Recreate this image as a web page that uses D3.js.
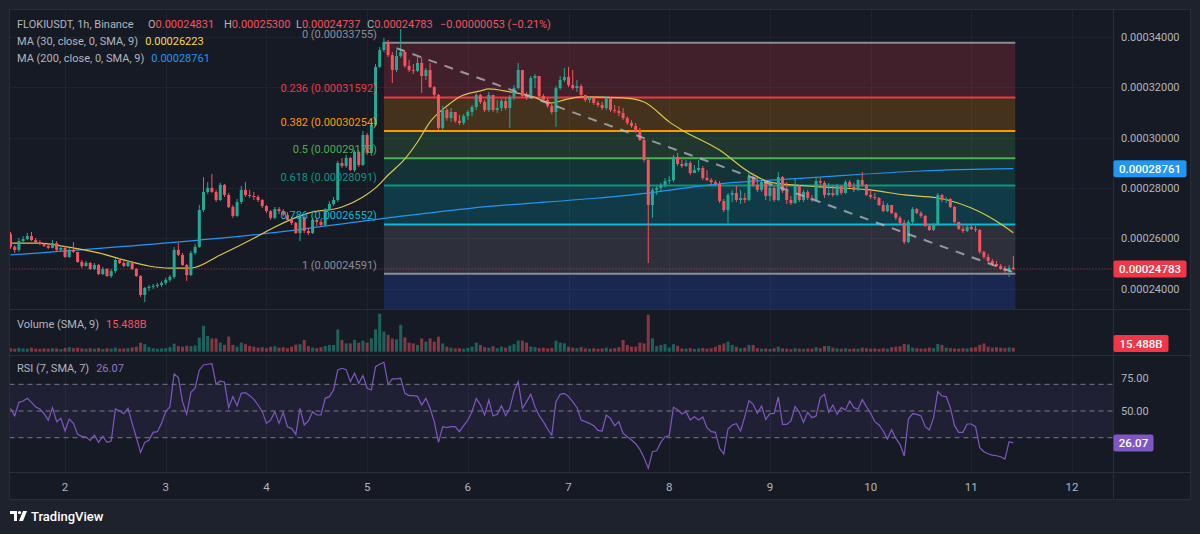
<!DOCTYPE html>
<html><head><meta charset="utf-8">
<script src="https://cdn.jsdelivr.net/npm/d3@7/dist/d3.min.js"></script>
<style>
html,body{margin:0;padding:0;background:#1e222d;}
svg{display:block;font-family:Roboto,"Noto Sans",sans-serif;}
</style></head><body>
<svg id="c" width="1200" height="534"></svg>
<script>
// ---------------- DATA (prices in units of 1e-8 USDT) ----------------
const UNIT = 1e-8;
const symbolTitle = "FLOKIUSDT, 1h, Binance";
const headerChange = "\u22120.00000053 (\u22120.21%)";
const ma30Title = "MA (30, close, 0, SMA, 9)";
const ma200Title = "MA (200, close, 0, SMA, 9)";
const volumeTitle = "Volume (SMA, 9)";
const rsiTitle = "RSI (7, SMA, 7)";
const dayTicks = [2,3,4,5,6,7,8,9,10,11,12];
const firstHour = -13;           // hours relative to day 2, 00:00
const firstOpen = 26170;
const lastOpen = 24831;
const close = [
25660,25540,25890,25970,26090,25930,25850,25770,25700,25620,
25810,25540,25620,25260,25540,25460,25060,24900,25020,24780,
24940,24580,24780,24500,24700,25140,25020,24900,25060,24780,
24500,23750,24030,24070,24110,24150,24230,24350,24470,25540,
25340,24940,24540,25420,25660,27120,27840,28000,27840,27520,
28120,27720,27240,26890,27440,27920,27720,27680,27640,27520,
27280,27080,26810,27160,27080,26930,26730,26610,26210,26850,
26290,26210,26730,26650,26530,27120,27360,27520,28990,28870,
29190,28710,29430,28910,30100,29390,30500,32800,33470,33790,
33270,32680,33230,33390,32840,32680,32640,32960,32440,32680,
32000,31690,30380,31090,30770,31010,30660,30580,30850,31010,
31210,31690,31410,31090,31690,31090,31170,31450,31170,31610,
31960,32680,31650,31570,32360,32440,31650,31490,31250,31010,
31960,32280,32400,32080,31960,32040,31690,31490,31570,31370,
31290,31170,31570,31090,31050,30970,30770,30580,30460,30260,
29900,29110,27320,27920,28000,28120,28270,28310,29230,28950,
28870,28990,28590,28710,28790,28390,28310,28230,28160,27480,
27120,27720,27800,27520,27600,27520,28430,28120,27920,28230,
27680,28000,27520,28430,27880,27520,27400,28080,27520,27840,
27600,27520,28270,28200,27720,27800,27720,28080,27800,28230,
28040,27920,28310,28120,27720,27640,27600,27320,27080,27320,
27000,26810,26610,25850,26650,27160,27000,26890,26490,26330,
26570,27720,27520,27560,27240,26650,26370,26290,26450,26370,
26330,25460,25260,25100,24980,24900,24780,24700,24831,24783];
const high = [
26250,25730,26010,26090,26210,26250,26010,25930,25810,25770,
25930,25890,25730,25700,25620,25850,25460,25140,25100,25060,
25020,24980,24860,24820,24780,25220,25220,25180,25140,25100,
24820,24540,24070,24150,24190,24230,24310,24430,24540,25660,
25810,25420,24980,25500,25770,27320,28430,28230,28550,27920,
28200,28160,27800,27320,27560,28080,28230,27920,27840,27720,
27560,27320,27120,27240,27240,27160,27040,26850,26650,26930,
26960,26410,26810,26810,26770,27200,27480,27640,29070,29190,
29310,29230,29500,29500,30260,30180,30620,32920,33590,33950,
33870,33390,33470,34310,33390,33080,32920,33190,33190,32760,
32960,32040,31730,31250,31170,31170,31010,30890,30930,31090,
31290,31770,31730,31490,31810,31690,31490,31530,31570,31690,
32080,32960,32600,31810,32440,32520,32440,31730,31570,31370,
32040,32440,32760,32800,32680,32280,32120,31690,31650,31610,
31450,31410,31650,31610,31290,31250,31170,30850,30690,30580,
30380,29940,29150,28000,28080,28200,28390,28470,29310,29390,
29110,29110,29070,28910,29110,28870,28710,28390,28310,28270,
27560,27800,27920,28080,27920,27800,28630,28590,28390,28390,
28310,28160,28080,28630,28470,28230,27680,28390,28120,27920,
27920,27720,28390,28390,28270,28200,28120,28160,28080,28310,
28310,28200,28350,28630,28160,27920,27800,27640,27480,27400,
27320,27040,26890,26730,26730,27240,27200,27080,26930,26530,
26610,27800,27760,27640,27600,27280,26650,26490,26530,26570,
26490,26370,25500,25380,25180,25100,24980,24900,24940,25300];
const low = [
25580,25420,25460,25850,25930,25890,25810,25730,25660,25580,
25600,25500,25500,25220,25220,25420,25020,24820,24870,24740,
24740,24540,24540,24470,24430,24620,24980,24860,24860,24740,
24470,23670,23470,23910,23990,24030,24070,24150,24270,24390,
25300,24900,24310,24500,25340,25620,27040,27760,27800,27440,
27480,27640,27200,26810,26850,27360,27640,27600,27520,27440,
27200,27000,26730,26770,26960,26890,26690,26530,26170,25890,
26210,26130,26170,26490,26450,26490,27080,27280,27440,28790,
28790,28670,28630,28830,28870,29310,29270,30460,32760,33390,
33190,32160,32600,33160,32760,32600,32520,32600,31770,32280,
31960,31610,30300,30300,30660,30620,30580,30500,30500,30690,
30850,31090,31330,31010,31010,31010,30970,31050,31090,30380,
31490,31890,31570,31490,31530,31960,31570,31410,31170,30930,
30420,31890,32200,32000,31890,31810,31610,31410,31370,31290,
31210,31090,31090,31010,30970,30850,30690,30500,30380,30180,
29860,29030,25020,26810,27720,27840,28040,28160,28230,28870,
28790,28830,28510,28590,28630,28310,28270,28120,28080,27400,
27040,26610,27440,27440,27360,27400,27480,28040,27840,27840,
27520,27480,27440,27480,27800,27360,27320,27360,27440,27440,
27520,27440,27480,28120,27600,27680,27640,27680,27720,27760,
28000,27840,27880,28040,27680,27560,27520,27280,27040,27040,
26960,26730,26570,25770,25810,26570,26960,26810,26450,26290,
26290,26490,27440,27400,27200,26610,26330,26210,26250,26330,
26250,25380,25180,25060,24900,24860,24740,24620,24470,24737];
const volume = [
14,12,15,13,12,16,12,11,13,12, 14,13,10,15,18,14,16,13,12,14,
12,15,11,14,12,16,12,13,14,17, 20,36,30,18,14,12,13,14,18,32,
22,20,24,22,25,56,103,63,53,53, 36,27,60,27,20,36,30,23,20,16,
18,14,20,22,16,18,14,20,28,30, 47,22,16,14,18,23,27,27,89,47,
33,33,47,36,44,36,53,89,151,80, 67,53,49,107,57,36,33,27,53,40,
53,40,60,33,20,16,13,14,12,15, 20,36,27,18,16,22,14,20,16,24,
30,44,44,36,20,18,14,16,13,15, 44,36,33,20,16,14,18,13,12,14,
12,13,16,12,14,18,47,27,20,20, 36,33,147,53,23,27,30,16,30,23,
13,12,14,11,13,15,12,14,20,27, 33,40,27,20,14,16,27,27,14,12,
13,11,14,20,13,12,10,14,12,11, 13,12,18,14,23,23,16,13,12,14,
11,13,12,16,14,12,13,11,14,12, 18,20,22,31,29,16,14,12,13,16,
14,31,27,16,14,13,12,14,13,16, 18,27,33,20,16,18,16,14,17,15.488];
const rsi = [
52,46.5,56.5,57.5,59.5,56.5,53,51.5,48,43, 52.5,42,44.5,35,44,40.75,32.5,31,30.5,28,
32,26.5,31,26.5,27.5,51.5,50,48,52,40.75, 30,19,26.5,28,34,34.5,40.75,49.5,53.25,77.75,
75,57,47.5,64,67,80.75,84.5,85,85.5,70, 72.5,71.5,52.5,60.75,54,63.25,63.75,61.5,58.75,54.5,
49.5,40.75,43.25,49.5,40.75,49,38.25,37,32.5,52, 39.5,42.5,49.5,47,47,59.5,60.75,65.75,80.75,82,
81,72,78.25,70.75,76.5,67,65.75,83.25,85,86.5, 70,74,74,74.5,63.25,61.5,61.5,61,54.5,59.5,
52,42,26.5,38.25,37.5,38.25,38.25,34.5,39,43.25, 49.5,59.5,54.5,47,58.25,46.25,47.5,54,46.5,52,
64.5,72,52,57,62.5,53.25,46.5,42,36.5,32, 57,62.5,63.25,60.75,57,52.5,43.25,42,40.75,39,
35.5,35,47,44.5,39,42,33.25,30.75,28.25,25.5, 21.25,15,7,19.5,20.25,26.5,30.75,31.5,52.75,51,
47.75,49.5,43.25,45.75,43.25,45.5,37.5,34.5,34,22, 17.75,36.5,39.5,40.5,35,45.75,57.75,55,48.25,53.75,
43.75,48,48.25,60.5,40,40,42.5,53.25,49,41.5, 49,45,46.25,60,62.5,49,54.5,47.5,52.5,50.75,
57.5,52.5,51.25,58.5,53.25,48.25,42,39.5,35,29, 36,29.5,25,16.25,44,48,47.5,46.25,38.25,35.75,
45,64.5,61.25,60.75,52.5,39,34,34,40.25,40.25, 38.25,22.5,19.5,18,17,16.5,15.75,14,27,26.07];
const ma30Bars = [0,7,12,21,28,33,38,43,50,59,63,71,79,84,87,90,94,97,100,104,107,112,114,119,124,129,132,136,146,151,157,160,169,176,181,193,205,213,221,229,236,239];
const ma30Vals = [25810,25810,25700,25420,25100,24900,24820,24820,25340,26090,26450,27000,27240,27640,28000,28510,29150,29820,30620,31250,31610,31850,31930,31810,31650,31370,31490,31610,31570,31410,30620,30300,29500,28630,28230,28040,27920,27720,27600,27200,26570,26223];
const ma200Bars = [0,45,60,90,110,140,148,169,193,217,239];
const ma200Vals = [25340,25930,26170,26810,27200,27600,27720,28160,28430,28670,28761];
const fibRatios = [0,0.236,0.382,0.5,0.618,0.786,1,1.618];
const fibPrices = [33755,31592,30254,29173,28091,26552,24591,18928];
const fibFromBar = 89, fibToBar = 239;
const trendFrom = [92, 33543], trendTo = [239, 24651];
const priceTicks = [24000,26000,28000,30000,32000,34000];
const rsiLevels = [70,50,30];
const rsiTicks = [75,50];

// ---------------- LAYOUT ----------------
const W=1200,H=534;
const PL=9.5, PR=1113.5, AXR=1190.5;
const PT=9.5, PB=309.5, VB=355.5, RB=472.5, XB=499.5;
const GREEN="#22ab94", RED="#f7525f";
const fibColors = ["#8a8d96","#f23645","#ff9800","#4caf50","#089981","#00bcd4","#8a8d96","#2962ff"];
const fmtP = v => (v*UNIT).toFixed(8);

const svg = d3.select('#c');
svg.append('rect').attr('width',W).attr('height',H).attr('fill','#1e222d');
svg.append('rect').attr('x',PL).attr('y',PT).attr('width',AXR-PL).attr('height',XB-PT).attr('fill','#161a25');

const n = close.length;
const hourOf = i => firstHour + i;
const x = d3.scaleLinear().domain([firstHour, firstHour+n-1]).range([10.5, 1013.3]);
const yP = d3.scaleLinear().domain([24000,34000]).range([288.7,36.7]);
const yV = d3.scaleLinear().domain([0,160]).range([351.7,311.5]);
const yR = d3.scaleLinear().domain([30,70]).range([437.7,384.3]);
const openOf = i => i===0 ? firstOpen : (i===n-1 ? lastOpen : close[i-1]);

const defs = svg.append('defs');
function clip(id,x0,y0,x1,y1){defs.append('clipPath').attr('id',id).append('rect').attr('x',x0).attr('y',y0).attr('width',x1-x0).attr('height',y1-y0);}
clip('cp',PL,PT,PR,PB); clip('cv',PL,PB,PR,VB); clip('cr',PL,VB,PR,RB);

// grid
const grid = svg.append('g').attr('stroke','#1f2330').attr('stroke-width',1);
dayTicks.forEach(d=>{const xx=Math.round(x((d-2)*24))+0.5; grid.append('line').attr('x1',xx).attr('x2',xx).attr('y1',PT).attr('y2',RB);});
priceTicks.forEach(p=>{const yy=Math.round(yP(p))+0.5; grid.append('line').attr('x1',PL).attr('x2',PR).attr('y1',yy).attr('y2',yy);});

// ---------- price pane ----------
const gp = svg.append('g').attr('clip-path','url(#cp)');
const fx0 = x(hourOf(fibFromBar)), fx1 = x(hourOf(fibToBar))+2;
for(let k=0;k<fibPrices.length-1;k++){
  const y0=yP(fibPrices[k]), y1=yP(fibPrices[k+1]);
  gp.append('rect').attr('x',fx0).attr('y',y0).attr('width',fx1-fx0).attr('height',y1-y0)
    .attr('fill',fibColors[k+1]).attr('fill-opacity',0.2);
}
fibPrices.forEach((p,k)=>{
  gp.append('line').attr('x1',fx0).attr('x2',fx1).attr('y1',yP(p)).attr('y2',yP(p))
    .attr('stroke',fibColors[k]).attr('stroke-width',2);
});
// last price dotted line
gp.append('line').attr('x1',PL).attr('x2',PR).attr('y1',yP(close[n-1])).attr('y2',yP(close[n-1]))
  .attr('stroke',RED).attr('stroke-opacity',0.7).attr('stroke-dasharray','1,2');
// MA lines
const maLine = d3.line().curve(d3.curveMonotoneX);
gp.append('path').attr('d',maLine(ma200Bars.map((b,j)=>[x(hourOf(b)),yP(ma200Vals[j])]))).attr('fill','none').attr('stroke','#2196f3').attr('stroke-width',1.2);
gp.append('path').attr('d',maLine(ma30Bars.map((b,j)=>[x(hourOf(b)),yP(ma30Vals[j])]))).attr('fill','none').attr('stroke','#dcc54a').attr('stroke-width',1.2);
// candles
const cg = gp.append('g');
close.forEach((c,i)=>{
  const o=openOf(i), up=c>=o, col=up?GREEN:RED, xx=x(hourOf(i));
  cg.append('line').attr('x1',xx).attr('x2',xx).attr('y1',yP(high[i])).attr('y2',yP(low[i])).attr('stroke',col).attr('stroke-width',1);
  const yt=yP(Math.max(o,c)), yb=yP(Math.min(o,c));
  cg.append('rect').attr('x',xx-1.5).attr('width',3).attr('y',yt).attr('height',Math.max(1,yb-yt)).attr('fill',col);
});
// trend line
gp.append('line').attr('x1',x(hourOf(trendFrom[0]))).attr('y1',yP(trendFrom[1])).attr('x2',x(hourOf(trendTo[0]))).attr('y2',yP(trendTo[1]))
  .attr('stroke','#b8bbc4').attr('stroke-opacity',0.75).attr('stroke-width',2).attr('stroke-dasharray','9,8');
// fib labels
fibPrices.slice(0,7).forEach((p,k)=>{
  svg.append('text').attr('x',fx0-7).attr('y',yP(p)-5).attr('text-anchor','end').attr('font-size',11)
    .attr('fill',fibColors[k]).text(`${fibRatios[k]} (${fmtP(p)})`);
});

// ---------- volume pane ----------
const gv = svg.append('g').attr('clip-path','url(#cv)');
volume.forEach((v,i)=>{
  const up = close[i]>=openOf(i), xx=x(hourOf(i));
  gv.append('rect').attr('x',xx-1.5).attr('width',3).attr('y',yV(v)).attr('height',yV(0)-yV(v))
    .attr('fill',up?GREEN:RED).attr('fill-opacity',0.5);
});

// ---------- RSI pane ----------
const gr = svg.append('g').attr('clip-path','url(#cr)');
gr.append('rect').attr('x',PL).attr('width',PR-PL).attr('y',yR(70)).attr('height',yR(30)-yR(70)).attr('fill','#7e57c2').attr('fill-opacity',0.1);
rsiLevels.forEach(l=>gr.append('line').attr('x1',PL).attr('x2',PR).attr('y1',yR(l)).attr('y2',yR(l)).attr('stroke','#787b86').attr('stroke-dasharray','5,4').attr('stroke-width',1));
gr.append('path').attr('d',d3.line()(rsi.map((v,i)=>[x(hourOf(i)),yR(v)]))).attr('fill','none').attr('stroke','#7e57c2').attr('stroke-width',1.2);

// separators
const sep = svg.append('g').attr('stroke','#2a2e39').attr('stroke-width',1);
[PB,VB,RB,XB,PT].forEach(yy=>sep.append('line').attr('x1',PL).attr('x2',AXR).attr('y1',yy).attr('y2',yy));
[PL,PR,AXR].forEach(xx=>sep.append('line').attr('x1',xx).attr('x2',xx).attr('y1',PT).attr('y2',XB));

// ---------- axes ----------
const axT = svg.append('g').attr('font-size',11).attr('fill','#b2b5be');
priceTicks.forEach(p=>axT.append('text').attr('x',1121).attr('y',yP(p)+4).text(fmtP(p)));
rsiTicks.forEach(v=>axT.append('text').attr('x',1121).attr('y',yR(v)+4).text(v.toFixed(2)));
dayTicks.forEach(d=>axT.append('text').attr('x',x((d-2)*24)).attr('y',491).attr('text-anchor','middle').attr('font-size',11.5).text(d));

function tag(yc,w,col,txt){
  svg.append('rect').attr('x',PR).attr('y',yc-8.5).attr('width',w).attr('height',17).attr('rx',2).attr('fill',col);
  svg.append('text').attr('x',PR+w/2).attr('y',yc+4).attr('text-anchor','middle').attr('font-size',11.5).attr('font-weight',500).attr('fill','#ffffff').text(txt);
}
tag(yP(ma200Vals[ma200Vals.length-1]),73,'#2196f3',fmtP(ma200Vals[ma200Vals.length-1]));
tag(yP(close[n-1]),73,'#f23645',fmtP(close[n-1]));
tag(Math.min(yV(volume[n-1]),VB-12),55,'#f23645',volume[n-1].toFixed(3)+'B');
tag(yR(rsi[n-1]),40,'#7e57c2',rsi[n-1].toFixed(2));

// ---------- legends ----------
const lg = svg.append('g').attr('font-size',11);
lg.append('text').attr('x',17).attr('y',28).attr('fill','#b2b5be').text(symbolTitle);
const ohlc = [["O",lastOpen,148],["H",high[n-1],224],["L",low[n-1],296],["C",close[n-1],367]];
ohlc.forEach(([k,v,xx])=>{const t=lg.append('text').attr('x',xx).attr('y',28);
  t.append('tspan').attr('fill','#b2b5be').text(k); t.append('tspan').attr('fill','#f7525f').text(fmtP(v));});
lg.append('text').attr('x',440).attr('y',28).attr('fill','#f7525f').text(headerChange);
let t2=lg.append('text').attr('x',17).attr('y',45);
t2.append('tspan').attr('fill','#b2b5be').text(ma30Title);
t2.append('tspan').attr('dx',7).attr('fill','#f5dc4a').text(fmtP(ma30Vals[ma30Vals.length-1]));
let t3=lg.append('text').attr('x',17).attr('y',62);
t3.append('tspan').attr('fill','#b2b5be').text(ma200Title);
t3.append('tspan').attr('dx',7).attr('fill','#2196f3').text(fmtP(ma200Vals[ma200Vals.length-1]));
let t4=lg.append('text').attr('x',17).attr('y',328);
t4.append('tspan').attr('fill','#b2b5be').text(volumeTitle);
t4.append('tspan').attr('dx',7).attr('fill','#f7525f').text(volume[n-1].toFixed(3)+'B');
let t5=lg.append('text').attr('x',17).attr('y',372);
t5.append('tspan').attr('fill','#b2b5be').text(rsiTitle);
t5.append('tspan').attr('dx',7).attr('fill','#9575cd').text(rsi[n-1].toFixed(2));

// ---------- TradingView logo ----------
const logo = svg.append('g').attr('transform','translate(10,511)').attr('fill','#ffffff');
logo.append('path').attr('d','M0 0H7V10H4V3H0Z');
logo.append('circle').attr('cx',9.5).attr('cy',1.6).attr('r',1.6);
logo.append('path').attr('d','M13 0H17L13 10H9Z');
svg.append('text').attr('x',31).attr('y',521).attr('font-size',13).attr('font-weight',500).attr('fill','#ffffff').text('TradingView');
</script>
</body></html>
